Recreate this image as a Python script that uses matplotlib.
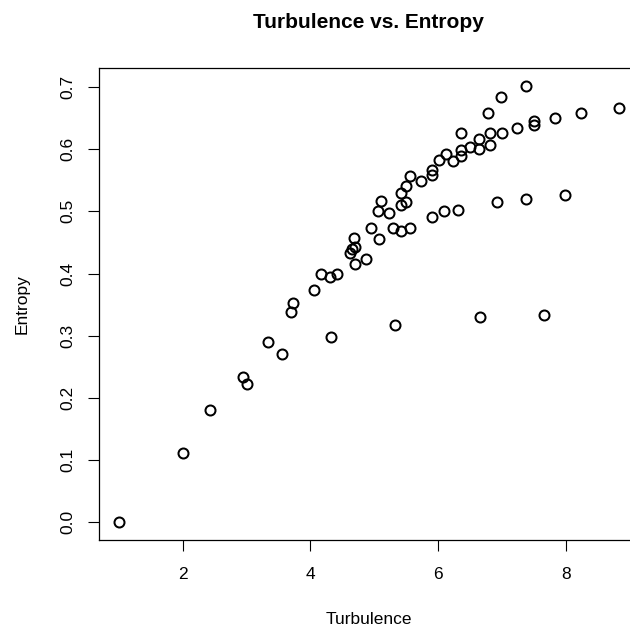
import matplotlib.pyplot as plt

plt.rcParams['font.family'] = ['Liberation Sans', 'DejaVu Sans']

# values
turbulence = [1.00, 2.00, 2.43, 2.94, 3.00, 3.335, 3.554, 3.69, 3.726, 4.055,
              4.326, 4.16, 4.31, 4.41, 4.697, 4.864, 4.623, 4.649, 4.70, 4.676,
              5.067, 5.322, 4.952, 5.291, 5.416, 5.562, 5.061, 5.224, 5.108, 5.41,
              5.49, 5.41, 5.494, 5.562, 5.725, 5.897, 6.084, 6.313, 5.90, 5.907,
              6.006, 6.116, 6.225, 6.355, 6.355, 6.496, 6.642, 6.814, 6.92, 6.36,
              6.642, 6.814, 6.783, 6.986, 7.377, 7.00, 7.232, 7.498, 7.498, 7.82,
              8.238, 8.82, 7.368, 7.988, 6.653, 7.654]
entropy = [0.000, 0.112, 0.181, 0.233, 0.223, 0.290, 0.271, 0.338, 0.353, 0.3735,
           0.2986, 0.400, 0.395, 0.400, 0.4157, 0.4238, 0.4324, 0.440, 0.443, 0.457,
           0.4554, 0.318, 0.474, 0.4735, 0.468, 0.4725, 0.500, 0.4966, 0.516, 0.510,
           0.5148, 0.530, 0.541, 0.5565, 0.549, 0.491, 0.4998, 0.502, 0.559, 0.5666,
           0.5827, 0.593, 0.5817, 0.5886, 0.598, 0.6035, 0.601, 0.607, 0.515, 0.6255,
           0.616, 0.626, 0.6576, 0.6833, 0.702, 0.6266, 0.6347, 0.6448, 0.6394, 0.650,
           0.658, 0.6656, 0.520, 0.526, 0.3297, 0.3329]

x_ticks = [2, 4, 6, 8]
y_ticks = [0.0, 0.1, 0.2, 0.3, 0.4, 0.5, 0.6, 0.7]

fig = plt.figure(figsize=(6.3, 6.27), dpi=100)
# right edge of the box runs past the image, like the reference
ax = fig.add_axes([0.1568, 0.1392, 0.8567, 0.7519])

ax.plot(turbulence, entropy, 'o', markerfacecolor='none', markeredgecolor='black',
        markersize=7.2, markeredgewidth=1.45)

# R style 4% padding on the data range
xr = max(turbulence) - min(turbulence)
yr = max(entropy) - min(entropy)
ax.set_xlim(min(turbulence) - 0.04 * xr, max(turbulence) + 0.04 * xr)
ax.set_ylim(min(entropy) - 0.04 * yr, max(entropy) + 0.04 * yr)

ax.set_xticks(x_ticks)
ax.set_xticklabels([str(t) for t in x_ticks])
ax.set_yticks(y_ticks)
ax.set_yticklabels(['%.1f' % t for t in y_ticks], rotation=90, va='center')
ax.tick_params(direction='out', length=8, width=0.8, labelsize=12.5)
ax.tick_params(axis='x', pad=12)
ax.tick_params(axis='y', pad=9)
for s in ax.spines.values():
    s.set_linewidth(0.9)

fig.text(368.7 / 630, 1 - 22 / 627, 'Turbulence vs. Entropy', ha='center', va='center',
         fontsize=15, fontweight='bold')
fig.text(368.7 / 630, 1 - 619 / 627, 'Turbulence', ha='center', va='center', fontsize=12.5)
fig.text(22 / 630, 1 - 304 / 627, 'Entropy', ha='center', va='center', rotation=90,
         fontsize=12.5)

fig.savefig('out.png', dpi=100)
